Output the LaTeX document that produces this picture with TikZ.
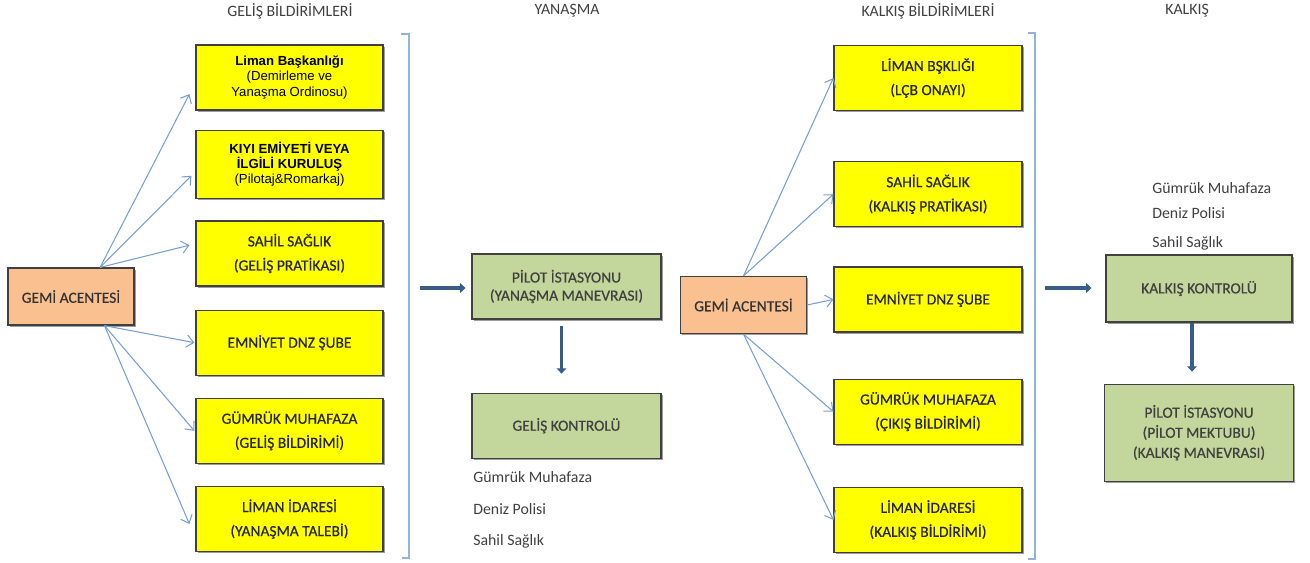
\documentclass[tikz,border=0pt]{standalone}
\usepackage{fontspec}
\setmainfont{Carlito}
\newfontfamily\arialfont{Liberation Sans}
\newfontfamily\kutufont[FakeBold=0.5]{Carlito}
\usepackage{tikz}
\usetikzlibrary{positioning,arrows.meta,shadows}
\definecolor{sariy}{RGB}{255,255,0}
\definecolor{turuncuy}{RGB}{250,192,144}
\definecolor{yesily}{RGB}{195,214,155}
\definecolor{okmavi}{RGB}{120,158,214}
\definecolor{koyumavi}{RGB}{56,93,138}
\definecolor{acikmavi}{RGB}{149,179,215}
\definecolor{yazigri}{RGB}{64,64,64}

\begin{document}
\begin{tikzpicture}[x=0.02cm,y=-0.02cm,
kutu/.style={rectangle,draw=black!75,line width=0.7pt,align=center,inner sep=2pt,
  drop shadow={shadow xshift=0.9pt,shadow yshift=-0.9pt,fill=black!55,opacity=0.7}},
sari/.style={kutu,fill=sariy,minimum width=3.74cm,minimum height=1.3cm,text=black!85,
  font=\kutufont\fontsize{8.8}{13.7}\selectfont},
arial/.style={sari,text=black,font=\arialfont\fontsize{7.5}{8.8}\selectfont},
turuncu/.style={kutu,fill=turuncuy,minimum width=2.52cm,minimum height=1.14cm,text=black!80,
  font=\kutufont\fontsize{8.8}{11}\selectfont},
yesil/.style={kutu,fill=yesily,minimum width=3.78cm,minimum height=1.3cm,text=black!75,
  font=\kutufont\fontsize{8.8}{10.3}\selectfont},
baslik/.style={text=yazigri,font=\fontsize{9}{11}\selectfont},
liste/.style={anchor=west,inner sep=0pt,text=yazigri,font=\fontsize{9}{11}\selectfont},
ok/.style={draw=okmavi,line width=0.6pt,-{Straight Barb[length=4pt,width=7pt]}},
kalin/.style={draw=koyumavi,line width=2.2pt,-{Triangle[length=3pt,width=5.5pt]}},
parantez/.style={draw=acikmavi,line width=1pt}]
\useasboundingbox (0,0) rectangle (1310,562);

% basliklar
\node[baslik] (t1) at (290,11) {GELİŞ BİLDİRİMLERİ};
\node[baslik] (t2) at (567,11) {YANAŞMA};
\node[baslik] (t3) at (928,11) {KALKIŞ BİLDİRİMLERİ};
\node[baslik] (t4) at (1187,11) {KALKIŞ};

% gelis bildirimleri
\node[turuncu] (acente) at (71,296.5) {GEMİ ACENTESİ};
\node[arial] (liman) at (289.5,77.5) {\textbf{Liman Başkanlığı}\\(Demirleme ve\\Yanaşma Ordinosu)};
\node[arial,minimum height=1.36cm,below=0.38cm of liman] (kiyi) {\textbf{KIYI EMİYETİ VEYA}\\\textbf{İLGİLİ KURULUŞ}\\(Pilotaj\&Romarkaj)};
\node[sari,below=0.43cm of kiyi] (sahil) {SAHİL SAĞLIK\\(GELİŞ PRATİKASI)};
\node[sari,below=0.46cm of sahil] (emniyet) {EMNİYET DNZ ŞUBE};
\node[sari,below=0.44cm of emniyet] (gumruk) {GÜMRÜK MUHAFAZA\\(GELİŞ BİLDİRİMİ)};
\node[sari,below=0.44cm of gumruk] (idare) {LİMAN İDARESİ\\(YANAŞMA TALEBİ)};

% yanasma
\node[yesil] (pilot) at (566.5,286.5) {PİLOT İSTASYONU\\(YANAŞMA MANEVRASI)};
\node[yesil,below=1.46cm of pilot] (gelis) {GELİŞ KONTROLÜ};
\node[liste] (g1) at (473,477) {Gümrük Muhafaza};
\node[liste] (g2) at (473,509) {Deniz Polisi};
\node[liste] (g3) at (473,541) {Sahil Sağlık};

% kalkis bildirimleri
\node[turuncu] (acente2) at (743.5,305) {GEMİ ACENTESİ};
\node[sari,minimum width=3.76cm] (liman2) at (928,78) {LİMAN BŞKLIĞI\\(LÇB ONAYI)};
\node[sari,minimum width=3.76cm,below=1.0cm of liman2] (sahil2) {SAHİL SAĞLIK\\(KALKIŞ PRATİKASI)};
\node[sari,minimum width=3.76cm,below=0.78cm of sahil2] (emniyet2) {EMNİYET DNZ ŞUBE};
\node[sari,minimum width=3.76cm,below=0.92cm of emniyet2] (gumruk2) {GÜMRÜK MUHAFAZA\\(ÇIKIŞ BİLDİRİMİ)};
\node[sari,minimum width=3.76cm,below=0.84cm of gumruk2] (idare2) {LİMAN İDARESİ\\(KALKIŞ BİLDİRİMİ)};

% kalkis
\node[yesil,minimum width=3.72cm,minimum height=1.34cm] (kontrol) at (1199,288.5) {KALKIŞ KONTROLÜ};
\node[yesil,minimum height=1.94cm,below=1.22cm of kontrol,font=\kutufont\fontsize{8.8}{11.4}\selectfont] (pilot2) {PİLOT İSTASYONU\\(PİLOT MEKTUBU)\\(KALKIŞ MANEVRASI)};
\node[liste] (k1) at (1152,188) {Gümrük Muhafaza};
\node[liste] (k2) at (1152,213) {Deniz Polisi};
\node[liste] (k3) at (1152,243) {Sahil Sağlık};

% parantezler
\draw[parantez] (401,34) -- (409,34) -- (409,558) -- (402,558);
\draw[parantez] (1028,33) -- (1035,33) -- (1035,559) -- (1028,559);
\coordinate (p1) at (409,288);
\coordinate (p2) at (1035,288);

% oklar
\draw[ok] (acente.45) -- ([xshift=-0.12cm]liman.190);
\draw[ok] (acente.45) -- ([xshift=-0.08cm]kiyi.187);
\draw[ok] (acente.45) -- ([xshift=-0.12cm]sahil.175);
\draw[ok] (acente.-41) -- ([xshift=-0.02cm]emniyet.180);
\draw[ok] (acente.-41) -- ([xshift=-0.02cm]gumruk.180);
\draw[ok] (acente.-41) -- ([xshift=-0.12cm]idare.183);

\draw[ok] (acente2.north) -- (liman2.west);
\draw[ok] (acente2.north) -- (sahil2.west);
\draw[ok] (acente2.east) -- (emniyet2.west);
\draw[ok] (acente2.south) -- (gumruk2.west);
\draw[ok] (acente2.south) -- (idare2.west);

\draw[kalin,shorten <=0.22cm,shorten >=0.12cm] (p1) -- (p1 -| pilot.west);
\draw[kalin,shorten <=0.12cm,shorten >=0.38cm] ([xshift=-0.1cm]pilot.south) -- ([xshift=-0.1cm]gelis.north);
\draw[kalin,shorten <=0.2cm,shorten >=0.28cm] (p2) -- (p2 -| kontrol.west);
\draw[kalin,shorten >=0.24cm] ([xshift=-0.14cm]kontrol.south) -- ([xshift=-0.14cm]pilot2.north);
\end{tikzpicture}
\end{document}
